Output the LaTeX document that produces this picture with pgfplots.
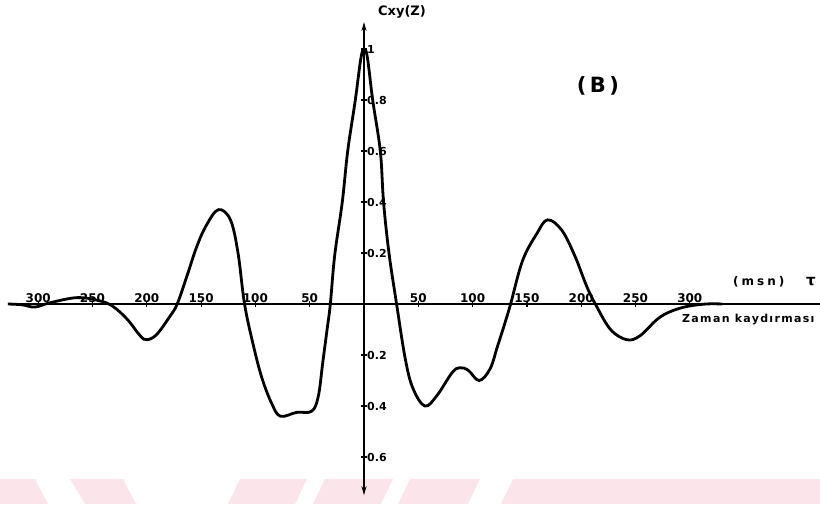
\documentclass[border=0pt]{standalone}
\usepackage{fontspec}
\setmainfont{DejaVu Sans}
\usepackage{pgfplots}
\pgfplotsset{compat=1.18}
\usetikzlibrary{arrows.meta}

\definecolor{wmpink}{RGB}{251,228,234}

\begin{document}
\begin{tikzpicture}[x=1pt,y=1pt]
\useasboundingbox (0,0) rectangle (820,504);
% light band along the lower edge
\fill[wmpink] (0,25) -- (35,25) -- (48,0) -- (0,0) -- cycle;
\fill[wmpink] (70,25) -- (123,25) -- (136,0) -- (85,0) -- cycle;
\fill[wmpink] (240,25) -- (307,25) -- (295,0) -- (228,0) -- cycle;
\fill[wmpink] (325,25) -- (393,25) -- (381,0) -- (313,0) -- cycle;
\fill[wmpink] (410,25) -- (480,25) -- (468,0) -- (398,0) -- cycle;
\fill[wmpink] (513,25) -- (820,25) -- (820,0) -- (501,0) -- cycle;

\begin{axis}[
  at={(364pt,200pt)}, anchor=origin,
  x=1.086pt, y=255pt,
  axis lines=middle,
  clip=false,
  xmin=-328, xmax=420, ymin=-0.75, ymax=1.106,
  axis line style={line width=1.7pt, black},
  x axis line style={-},
  y axis line style={{Stealth[length=9pt,width=5pt]}-{Stealth[length=9pt,width=5pt]}},
  xtick={-300,-250,-200,-150,-100,-50,50,100,150,200,250,300},
  xticklabels={300,250,200,150,100,50,50,100,150,200,250,300},
  ytick={-0.6,-0.4,-0.2,0.2,0.4,0.6,0.8,1},
  yticklabels={0.6,0.4,0.2,0.2,0.4,0.6,0.8,1},
  major tick length=6pt,
  tick style={black, line width=1.2pt},
  xticklabel style={anchor=south, yshift=4pt, inner sep=0pt,
    font=\bfseries\fontsize{12}{12}\selectfont},
  yticklabel style={anchor=west, xshift=6pt, inner sep=0pt,
    font=\bfseries\fontsize{11}{11}\selectfont},
]
\addplot[black, line width=2.8pt, smooth, tension=0.6] coordinates {
(-328,0) (-315,-0.003) (-303,-0.012) (-289,0.005) (-264,0.025)
(-243,0.012) (-231,-0.01) (-218,-0.06) (-206,-0.125) (-200,-0.14)
(-191,-0.12) (-179,-0.05) (-172,0) (-163,0.11) (-154,0.225)
(-145,0.31) (-134,0.37) (-123,0.33)
(-116,0.2) (-110,0) (-102,-0.16) (-94,-0.29) (-85,-0.39)
(-77,-0.44) (-62,-0.425) (-48,-0.42) (-42,-0.36)
(-38,-0.23) (-34,-0.1) (-31,0) (-27,0.19) (-20,0.40)
(-15,0.6) (-8,0.8) (-3,0.96) (0,1.0) (3,0.97)
(8,0.8) (15,0.6) (18,0.4) (23,0.2) (30,0)
(38,-0.215) (45,-0.33) (56,-0.40) (67,-0.36) (81,-0.27)
(88,-0.25) (96,-0.26) (106,-0.30) (116,-0.255) (123,-0.165)
(129,-0.085) (135,0) (146,0.17) (159,0.275)
(169,0.33) (182,0.29) (194,0.19) (205,0.07) (213,0)
(227,-0.1) (242,-0.14) (254,-0.125) (270,-0.06) (282,-0.03)
(297,-0.01) (315,0) (330,0)
};
\end{axis}

\node[font=\bfseries\fontsize{13}{13}\selectfont] at (402,492) {Cxy(Z)};
\node[font=\bfseries\fontsize{21}{21}\selectfont] at (598,418) {(\,B\,)};
\node[font=\bfseries\fontsize{12}{12}\selectfont\addfontfeature{LetterSpace=25}, anchor=west, inner sep=0pt] at (733,222) {(msn)};
\node[font=\bfseries\fontsize{15}{15}\selectfont, anchor=west, inner sep=0pt] at (806,222) {τ};
\node[font=\bfseries\fontsize{11}{11}\selectfont\addfontfeature{LetterSpace=12}, anchor=west, inner sep=0pt] at (682,184) {Zaman kaydırması};
\end{tikzpicture}
\end{document}
